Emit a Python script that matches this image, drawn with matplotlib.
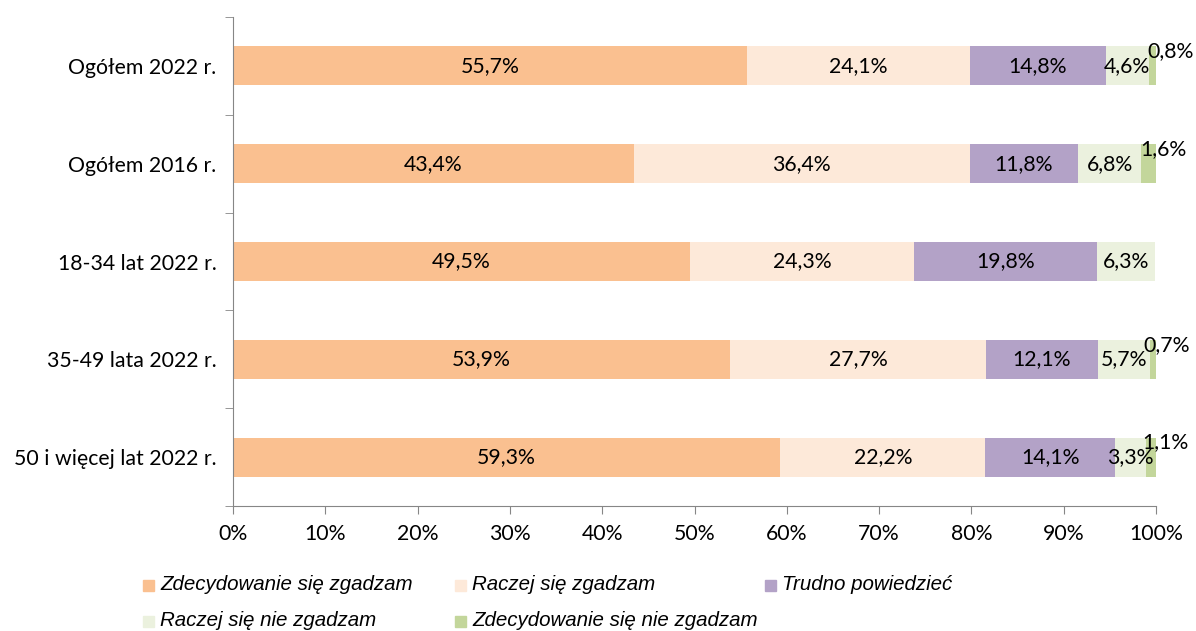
import matplotlib
matplotlib.use("Agg")
import matplotlib.pyplot as plt
from matplotlib.patches import Rectangle
import numpy as np

# categories (top to bottom)
categories = ["Ogółem 2022 r.", "Ogółem 2016 r.", "18-34 lat 2022 r.",
              "35-49 lata 2022 r.", "50 i więcej lat 2022 r."]
series_names = ["Zdecydowanie się zgadzam", "Raczej się zgadzam", "Trudno powiedzieć",
                "Raczej się nie zgadzam", "Zdecydowanie się nie zgadzam"]
zdecydowanie_tak = [55.7, 43.4, 49.5, 53.9, 59.3]
raczej_tak = [24.1, 36.4, 24.3, 27.7, 22.2]
trudno = [14.8, 11.8, 19.8, 12.1, 14.1]
raczej_nie = [4.6, 6.8, 6.3, 5.7, 3.3]
zdecydowanie_nie = [0.8, 1.6, 0.0, 0.7, 1.1]

colors = ["#FAC090", "#FDE9D9", "#B3A2C7", "#EBF1DE", "#C3D69B"]

# manual nudges (pixels) of the small last-segment labels, as in the original
small_dx = [-1, -1, 0, -7, -4]

label_font = ["Lato", "DejaVu Sans"]
fs = 15.3

fig = plt.figure(figsize=(11.96, 6.31), dpi=100)
ax = fig.add_axes([233 / 1196, 1 - 506 / 631, 923 / 1196, 489 / 631])

series = [zdecydowanie_tak, raczej_tak, trudno, raczej_nie, zdecydowanie_nie]
y = np.arange(len(categories))
left = np.zeros(len(categories))
for k, (vals, col) in enumerate(zip(series, colors)):
    vals = np.array(vals)
    ax.barh(y, vals, left=left, height=0.4, color=col, edgecolor="none")
    for i, v in enumerate(vals):
        if v <= 0:
            continue
        txt = f"{v:.1f}%".replace(".", ",")
        if k == 4:
            # tiny last segment: label sits above the bar end
            ax.annotate(txt, (left[i], y[i]),
                        xytext=(small_dx[i] * 0.72, 10.5), textcoords="offset points",
                        ha="left", va="center", fontsize=fs, family=label_font)
        else:
            ax.text(left[i] + v / 2, y[i], txt,
                    ha="center", va="center", fontsize=fs, family=label_font)
    left += vals

ax.set_xlim(0, 100)
ax.set_ylim(len(categories) - 0.5, -0.5)
ax.set_xticks(np.arange(0, 101, 10))
ax.set_xticklabels([f"{t}%" for t in range(0, 101, 10)], family=label_font, fontsize=fs)
ax.set_yticks(y)
ax.set_yticklabels(categories, family=label_font, fontsize=fs)
ax.set_yticks(np.arange(-0.5, len(categories), 1), minor=True)
ax.tick_params(axis="y", which="major", length=0, pad=12)
ax.tick_params(axis="y", which="minor", length=6, color="#868686", direction="out")
ax.tick_params(axis="x", length=6, color="#868686", direction="out", pad=7)
for s in ["top", "right"]:
    ax.spines[s].set_visible(False)
for s in ["left", "bottom"]:
    ax.spines[s].set_color("#868686")

# legend laid out in rows like the original
leg_pos = [(143, 585), (455, 585), (765, 585), (143, 621), (455, 621)]
for (px, py), name, col in zip(leg_pos, series_names, colors):
    fig.patches.append(Rectangle((px / 1196, 1 - (py + 6) / 631), 11 / 1196, 11 / 631,
                                 transform=fig.transFigure, color=col))
    fig.text((px + 17) / 1196, 1 - py / 631, name, fontsize=14.8, style="italic",
             family="Liberation Sans", va="center", ha="left")

fig.savefig("out.png", dpi=100)
